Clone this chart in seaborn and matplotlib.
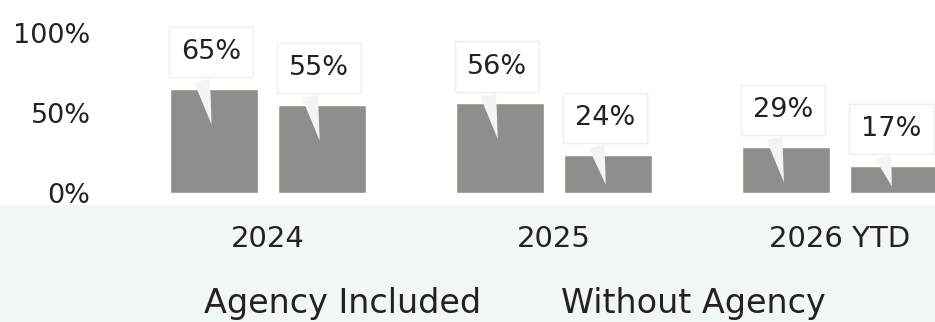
import matplotlib
matplotlib.use('Agg')
import matplotlib.pyplot as plt
import seaborn as sns
import pandas as pd
from matplotlib.patches import Rectangle

categories = ['2024', '2025', '2026 YTD']
series_names = ['Agency Included', 'Without Agency']
agency_included = [0.65, 0.56, 0.29]
without_agency = [0.55, 0.24, 0.17]
y_ticks = [0, 0.5, 1.0]
y_tick_labels = ['0%', '50%', '100%']

df = pd.DataFrame({
    'year': categories * 2,
    'series': [series_names[0]] * len(categories) + [series_names[1]] * len(categories),
    'value': agency_included + without_agency,
})

sns.set_style('white')
plt.rcParams['font.family'] = ['DejaVu Sans']
text_color = '#222222'
bar_color = '#8e8e8b'

fig = plt.figure(figsize=(9.35, 3.22), dpi=100)
fig.patch.set_facecolor('white')
fig.add_artist(Rectangle((0, 0), 1, 0.363, transform=fig.transFigure,
                         facecolor='#f1f7f4', edgecolor='none', zorder=0))
ax = fig.add_axes([0.128, 0.4006, 0.872, 0.5994])
ax.set_facecolor('none')

sns.barplot(data=df, x='year', y='value', hue='series', hue_order=series_names,
            palette=[bar_color, bar_color], width=0.755, gap=0.185, saturation=1,
            ax=ax, legend=True)

ax.set_xlim(-0.517, 2.332)
ax.set_ylim(0, 1.206)
ax.set_xlabel('')
ax.set_ylabel('')
for s in ax.spines.values():
    s.set_visible(False)

ax.set_yticks(y_ticks, labels=y_tick_labels)
ax.tick_params(axis='y', length=0, pad=21, labelsize=19.5, labelcolor=text_color)
ax.tick_params(axis='x', length=0, pad=23, labelsize=21, labelcolor=text_color)

for cont in ax.containers:
    for p in cont.patches:
        v = p.get_height()
        xc = p.get_x() + p.get_width() / 2
        tip = v - min(0.24, 0.85 * v)
        ax.annotate(f'{v:.0%}', xy=(xc - 0.005, tip), xytext=(xc - 0.01, v + 0.23),
                    ha='center', va='center', fontsize=19.5, color=text_color,
                    bbox=dict(boxstyle='square,pad=0.45', fc='white', ec='#efefef', lw=1),
                    arrowprops=dict(arrowstyle='wedge,tail_width=0.6,shrink_factor=0.5',
                                    fc='#f4f4f4', ec='none', relpos=(0.3, 0.0)),
                    zorder=5)

if ax.get_legend() is not None:
    ax.get_legend().remove()
handles = [cont.patches[0] for cont in ax.containers]
leg = fig.legend(handles, series_names, loc='center', bbox_to_anchor=(0.551, 0.056),
                 ncol=2, frameon=False, handlelength=0, handletextpad=0,
                 columnspacing=2.4, fontsize=24)
for h in leg.legend_handles:
    h.set_visible(False)
for t in leg.get_texts():
    t.set_color(text_color)

fig.savefig('out.png', dpi=100)
